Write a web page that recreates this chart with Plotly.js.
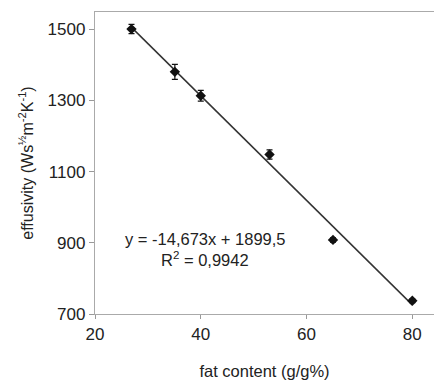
<!DOCTYPE html>
<html><head><meta charset="utf-8">
<script src="https://cdn.plot.ly/plotly-3.0.1.min.js"></script>
<style>html,body{margin:0;padding:0;background:#fff}#chart{width:434px;height:380px}</style>
</head><body><div id="chart"></div>
<script>
const fatContent = [26.9, 35.1, 40.0, 53.0, 65.0, 80.0];
const effusivity = [1500, 1380, 1313, 1148, 908, 737];
const effusivityErr = [13, 21, 15, 13, 6, 5];
const fitSlope = -14.673;
const fitIntercept = 1899.5;
const fitX = [26.9, 80.0];
const fitY = fitX.map(x => fitSlope * x + fitIntercept);
const xTicks = [20, 40, 60, 80];
const yTicks = [700, 900, 1100, 1300, 1500];

const fam = 'Liberation Sans, Arial, sans-serif';
const txt = '#222';
const data = [
  {x: fitX, y: fitY, mode: 'lines', line: {color: '#333', width: 1.5}, hoverinfo: 'skip', showlegend: false},
  {x: fatContent, y: effusivity, mode: 'markers',
   marker: {symbol: 'diamond', size: 8, color: '#111'},
   error_y: {type: 'data', array: effusivityErr, visible: true, color: '#111', thickness: 1.2, width: 3},
   showlegend: false}
];
const layout = {
  width: 434, height: 380,
  margin: {l: 95, r: 0, t: 12, b: 66},
  paper_bgcolor: '#fff', plot_bgcolor: '#fff',
  font: {family: fam, size: 16, color: txt},
  showlegend: false,
  xaxis: {range: [20, 84.1], tickvals: xTicks, ticks: 'outside', ticklen: 4, tickcolor: '#999',
          showgrid: false, zeroline: false, showline: true, linecolor: '#aaa', linewidth: 1.2, mirror: true,
          tickfont: {family: fam, size: 17, color: txt},
          title: {text: 'fat content (g/g%)', font: {family: fam, size: 16.5, color: txt}, standoff: 22}},
  yaxis: {range: [700, 1548], tickvals: yTicks, ticks: 'outside', ticklen: 5, tickcolor: '#999',
          showgrid: false, zeroline: false, showline: true, linecolor: '#aaa', linewidth: 1.2, mirror: false,
          tickfont: {family: fam, size: 17, color: txt},
          title: {text: 'effusivity (Ws<sup>½</sup>m<sup>-2</sup>K<sup>-1</sup>)', font: {family: fam, size: 16, color: txt}, standoff: 10}},
  annotations: [
    {xref: 'paper', yref: 'paper', x: 0.325, y: 0.248, xanchor: 'center', yanchor: 'middle',
     text: 'y = -14,673x + 1899,5', showarrow: false, font: {family: fam, size: 16.5, color: txt}},
    {xref: 'paper', yref: 'paper', x: 0.325, y: 0.183, xanchor: 'center', yanchor: 'middle',
     text: 'R<sup>2</sup> = 0,9942', showarrow: false, font: {family: fam, size: 16.5, color: txt}}
  ]
};
Plotly.newPlot('chart', data, layout, {displayModeBar: false, staticPlot: true});
</script></body></html>
